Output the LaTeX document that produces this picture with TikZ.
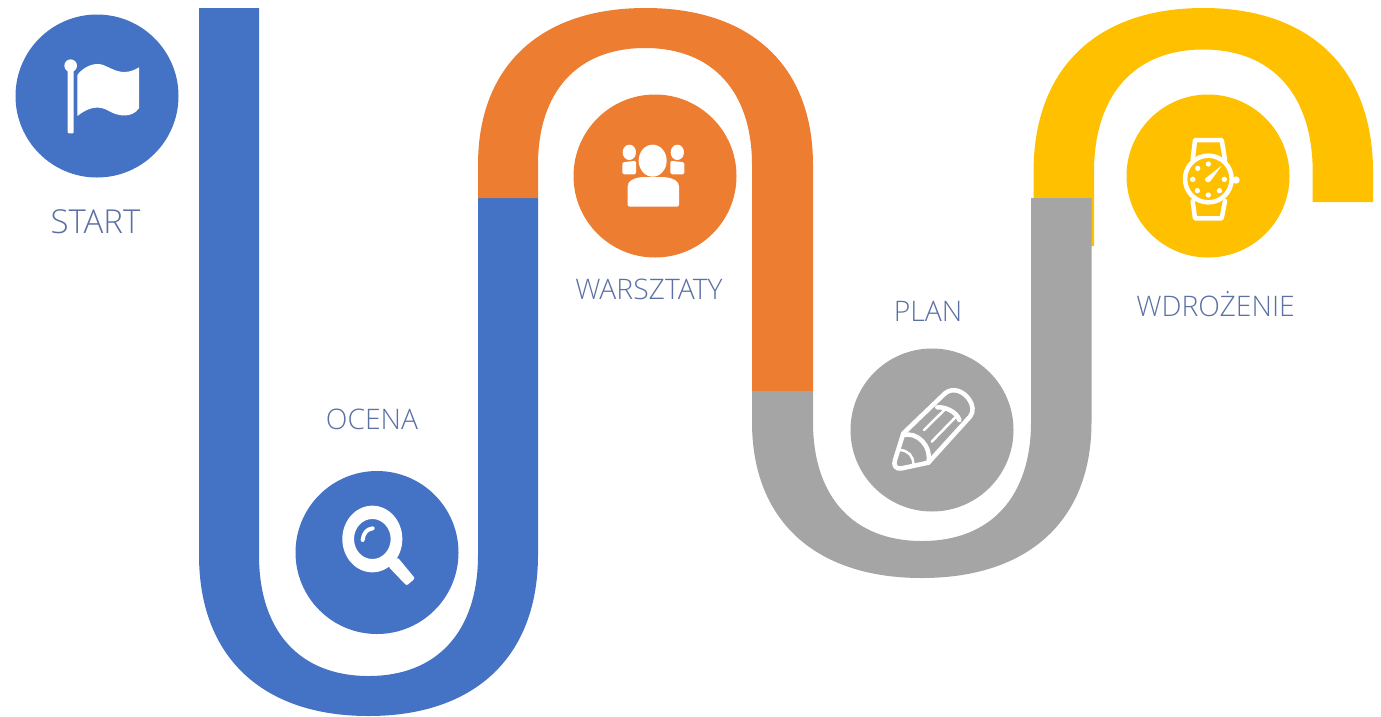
\documentclass[tikz,border=0pt]{standalone}
\usepackage{fontspec}
\setmainfont{Open Sans Light}
\definecolor{stepBlue}{HTML}{4472C4}
\definecolor{stepOrange}{HTML}{ED7D31}
\definecolor{stepGray}{HTML}{A5A5A5}
\definecolor{stepYellow}{HTML}{FFC000}
\definecolor{labelBlue}{HTML}{5B70A3}
% bend from (x0,y0) over an apex at height y1 down to (x1,y0)
\newcommand{\roadBend}[4]{%
  .. controls (#1,{#2+0.63*(#4-#2)}) and ({(#1+#3)/2+0.63*(#1-#3)/2},#4) .. ({(#1+#3)/2},#4)
  .. controls ({(#1+#3)/2-0.63*(#1-#3)/2},#4) and (#3,{#2+0.63*(#4-#2)}) .. (#3,#2)}
\tikzset{
  badge/.style={circle, minimum size=163pt, inner sep=0pt},
  stepLabel/.style={text=labelBlue, font=\fontsize{28.3}{32}\selectfont, inner sep=0pt},
  iconGrid/.style={x=0.33333pt, y=-0.33333pt},
  iconLine/.style={draw=white, line width=4.5pt, line join=round, line cap=round},
}
\begin{document}
\begin{tikzpicture}[x=1pt,y=-1pt]

\useasboundingbox (0,0) rectangle (1381,716);

% road
\fill[stepBlue] (199,8) -- (199,555) \roadBend{199}{555}{538}{716} -- (538,198) -- (478,198) -- (478,555) \roadBend{478}{555}{259}{676} -- (259,8) -- cycle;
\fill[stepOrange] (478,198) -- (478,165) \roadBend{478}{165}{813}{8} -- (813,391) -- (752,391) -- (752,165) \roadBend{752}{165}{538}{48} -- (538,198) -- cycle;
\fill[stepYellow] (1033.5,246) -- (1033.5,172) \roadBend{1033.5}{172}{1373}{8} -- (1373,202) -- (1312.7,202) -- (1312.7,172) \roadBend{1312.7}{172}{1094}{49.5} -- (1094,246) -- cycle;
\fill[stepGray] (752,391) -- (752,422) \roadBend{752}{422}{1091.5}{578} -- (1091.5,198) -- (1031,198) -- (1031,422) \roadBend{1031}{422}{813}{541} -- (813,391) -- cycle;

% badges
\node[badge, fill=stepBlue] (start) at (97,96) {};
\node[badge, fill=stepBlue] (ocena) at (377,552.5) {};
\node[badge, fill=stepOrange] (warsztaty) at (655,176) {};
\node[badge, fill=stepGray] (plan) at (932,430) {};
\node[badge, fill=stepYellow] (wdrozenie) at (1208,176) {};

% labels
\node[stepLabel, font=\fontsize{33}{36}\selectfont] (startLabel) at (95.5,222) {START};
\node[stepLabel] (ocenaLabel) at (372,419) {OCENA};
\node[stepLabel] (warsztatyLabel) at (649,289) {WARSZTATY};
\node[stepLabel] (planLabel) at (928,311) {PLAN};
\node[stepLabel] (wdrozenieLabel) at (1215.5,304) {WDROŻENIE};

% flag
\begin{scope}[shift={(20,20)}, iconGrid]
\fill[white] (152,137) circle[radius=19];
\fill[white, rounded corners=1pt] (143,150) rectangle (161,340);
\fill[white] (172,165) .. controls (190,140) and (225,125) .. (250,135)
  .. controls (285,150) and (310,170) .. (357,142) -- (357,265)
  .. controls (335,295) and (295,290) .. (265,272)
  .. controls (235,255) and (205,262) .. (172,288) -- cycle;
\end{scope}

% magnifier
\begin{scope}[shift={(300,475)}, iconGrid]
\fill[white, even odd rule] (217,192) ellipse[x radius=90, y radius=100] (217,192) ellipse[x radius=55, y radius=60];
\fill[white, rounded corners=2pt] (265,275) -- (293,247) -- (345,310) -- (320,332) -- cycle;
\draw[white, line width=4pt, line cap=round] (188,195) .. controls (190,175) and (200,162) .. (218,160);
\end{scope}

% people
\begin{scope}[shift={(575,95)}, iconGrid]
\fill[white] (163,172) ellipse[x radius=20, y radius=23];
\fill[white, rounded corners=1.5pt] (142,238) -- (142,202) -- (183,197) -- (183,238) -- cycle;
\fill[white] (307,172) ellipse[x radius=20, y radius=23];
\fill[white, rounded corners=1.5pt] (286,238) -- (286,197) -- (328,202) -- (328,238) -- cycle;
\fill[white] (233,197) ellipse[x radius=42, y radius=48];
\fill[white, rounded corners=2pt] (158,335) -- (158,280) .. controls (158,258) and (175,250) .. (200,246)
  -- (268,246) .. controls (295,250) and (312,258) .. (312,280) -- (312,335) -- cycle;
\end{scope}

% pencil
\begin{scope}[shift={(850,350)}, iconGrid]
\draw[iconLine] (160,250) -- (285,130) .. controls (310,110) and (340,125) .. (355,145)
  .. controls (370,165) and (372,185) .. (360,200) -- (235,338) -- (155,355)
  .. controls (135,358) and (130,345) .. (135,330) -- cycle;
\draw[iconLine] (160,255) .. controls (200,245) and (245,285) .. (235,338);
\draw[iconLine] (262,172) .. controls (285,170) and (320,185) .. (328,210);
\draw[iconLine, line width=2.5pt] (222,240) -- (285,178);
\draw[iconLine, line width=2.5pt] (245,275) -- (318,200);
\draw[iconLine, line width=2.5pt] (150,300) .. controls (175,302) and (190,318) .. (190,342);
\end{scope}

% watch
\begin{scope}[shift={(1130,95)}, iconGrid]
\draw[iconLine] (188,195) -- (195,135) -- (275,135) -- (285,195);
\draw[iconLine] (188,318) -- (195,370) -- (275,370) -- (285,318);
\draw[iconLine] (235,252) circle[radius=70];
\fill[white] (318,255) circle[radius=11];
\foreach \dotX/\dotY in {203/220,235/207,283/253,268/287,235/300,202/287,188/253} {
  \fill[white] (\dotX,\dotY) circle[radius=8];
}
\fill[white] (226,250) -- (275,212) -- (240,260) .. controls (232,265) and (222,258) .. (226,250) -- cycle;
\end{scope}

\end{tikzpicture}
\end{document}
